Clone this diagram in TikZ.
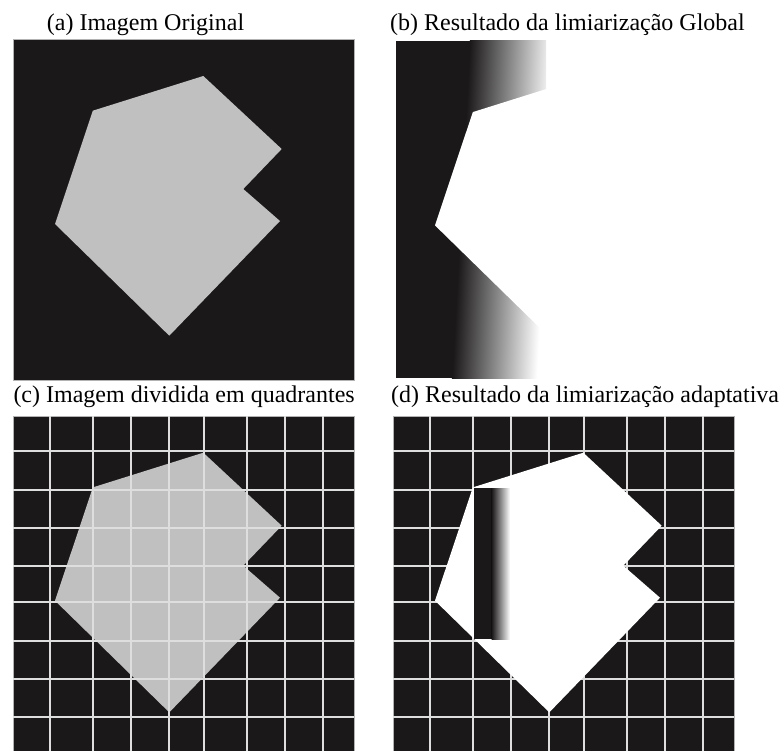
\documentclass[tikz,border=0pt]{standalone}
\usepackage{fontspec}
\setmainfont{Liberation Serif}
\definecolor{fundo}{RGB}{26,24,25}
\definecolor{cinza}{RGB}{192,192,192}
\definecolor{grade}{RGB}{222,222,222}
\newcommand{\poligono}[1]{%
  % the same polygon in every panel
  \fill[#1] (190,36.7) -- (79.5,71.4) -- (41.7,184.7) -- (156,296.4)
    -- (266.7,181.7) -- (230,149.7) -- (268.4,109.7) -- cycle;
}
\newcommand{\grade}{%
  \foreach \gx in {37,79.5,117.4,156,190.8,234,271.7,309.7}
    \draw[linha] (\gx,0) -- (\gx,345);
  \foreach \gy in {34.7,74,112.3,149.7,186.3,224.7,263.3,300.7}
    \draw[linha] (0,\gy) -- (341,\gy);
}

\begin{document}
\begin{tikzpicture}[x=1pt, y=-1pt,
    titulo/.style={font=\fontsize{24}{28}\selectfont, anchor=base west, inner sep=0pt},
    quadro/.style={fill=fundo, draw=gray!60, line width=0.6pt},
    linha/.style={draw=grade, line width=2pt},
]
\useasboundingbox (0,0) rectangle (784,751);
\clip (0,0) rectangle (784,751);

% ---------- (a) original image ----------
\node[titulo] (tit-a) at (46.7,31) {(a) Imagem Original};
\begin{scope}[shift={(13.3,39.3)}]
  \path[quadro] (0,0) rectangle (341,340.7);
  \poligono{cinza}
\end{scope}

% ---------- (b) global threshold ----------
\node[titulo] (tit-b) at (390,31) {(b) Resultado da limiarização Global};
\begin{scope}[shift={(393.3,40.7)}]
  \begin{scope}
    \clip (2.7,0) rectangle (152.7,337.6);
    \fill[fundo] (2.7,0) rectangle (152.7,337.6);
    % slanted fade to white
    \begin{scope}[transform canvas={xslant=0.053}]
      \fill[white] (160,-20) rectangle (220,360);
      \shade[left color=fundo, right color=white] (78.7,-20) rectangle (163.7,360);
    \end{scope}
  \end{scope}
  \poligono{white}
\end{scope}

% ---------- (c) image with grid ----------
\node[titulo] (tit-c) at (13.3,402.7) {(c) Imagem dividida em quadrantes};
\begin{scope}[shift={(13.3,416)}]
  \path[quadro] (0,0) rectangle (341,345);
  \poligono{cinza}
  \grade
\end{scope}

% ---------- (d) adaptive threshold ----------
\node[titulo] (tit-d) at (391,402.7) {(d) Resultado da limiarização adaptativa};
\begin{scope}[shift={(393.3,416)}]
  \path[quadro] (0,0) rectangle (340.7,345);
  \grade
  \poligono{white}
  % dark strip left in one column
  \fill[fundo] (80.5,72.3) rectangle (98.4,223.3);
  \shade[left color=fundo, right color=white] (98.4,72.3) rectangle (116.7,223.3);
\end{scope}

\end{tikzpicture}
\end{document}
